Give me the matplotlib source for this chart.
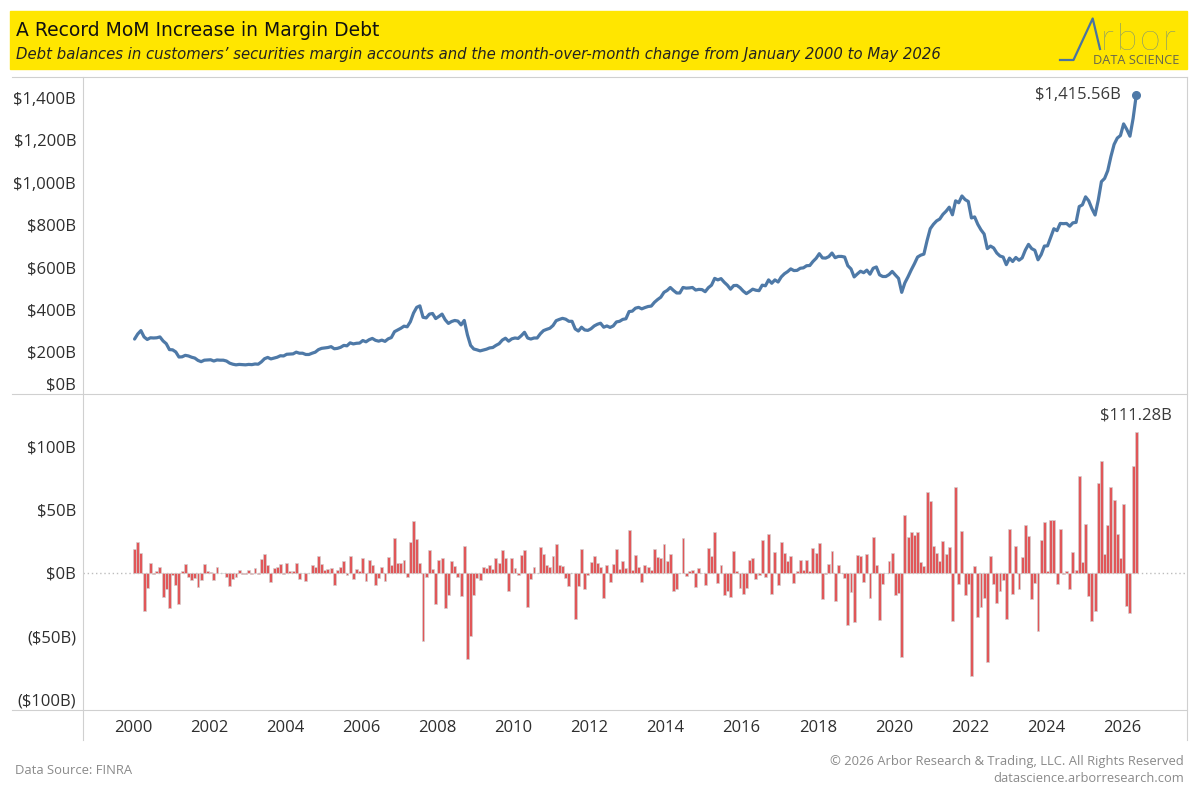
import numpy as np
import pandas as pd
import matplotlib
matplotlib.use("Agg")
import matplotlib.pyplot as plt
from matplotlib.lines import Line2D
from matplotlib.patches import Rectangle

# Margin debt balance ($B), monthly Jan 2000 .. May 2026, one row per year
margin_debt = [
    260, 284, 300, 270, 258, 266, 265, 266, 270, 251, 238, 210,
    209, 199, 175, 176, 183, 180, 174, 170, 159, 153, 160, 161,
    162, 156, 161, 160, 160, 156, 146, 141, 138, 140, 139, 138,
    140, 139, 142, 141, 152, 167, 173, 166, 170, 174, 181, 180,
    188, 189, 190, 198, 193, 193, 187, 187, 193, 198, 210, 216,
    218, 220, 224, 214, 216, 221, 230, 228, 242, 237, 240, 241,
    253, 247, 257, 263, 254, 250, 255, 249, 261, 267, 295, 303,
    311, 321, 318, 342, 383, 410, 417, 363, 360, 378, 381, 357,
    367, 378, 351, 334, 343, 348, 345, 327, 348, 280, 230, 213,
    209, 204, 208, 212, 218, 220, 230, 238, 255, 264, 250, 261,
    265, 263, 276, 292, 265, 260, 265, 265, 285, 300, 306, 311,
    324, 347, 353, 358, 354, 344, 344, 308, 298, 316, 303, 301,
    309, 322, 330, 335, 316, 322, 315, 322, 341, 344, 353, 356,
    390, 392, 406, 410, 403, 409, 414, 416, 434, 447, 458, 481,
    490, 504, 490, 478, 478, 504, 501, 502, 504, 492, 495, 494,
    484, 503, 515, 547, 540, 546, 529, 515, 496, 513, 514, 503,
    487, 475, 485, 496, 491, 489, 515, 512, 540, 524, 540, 530,
    554, 569, 579, 592, 584, 585, 595, 597, 607, 608, 627, 642,
    664, 644, 643, 650, 667, 645, 651, 651, 648, 607, 592, 554,
    568, 581, 574, 586, 567, 595, 601, 564, 556, 556, 565, 580,
    563, 547, 481, 526, 555, 587, 616, 648, 657, 662, 726, 782,
    803, 819, 828, 850, 865, 884, 848, 914, 905, 937, 920, 911,
    833, 838, 803, 777, 757, 688, 700, 691, 667, 653, 648, 612,
    643, 627, 646, 633, 644, 681, 708, 688, 680, 635, 660, 700,
    701, 742, 782, 773, 807, 806, 807, 794, 810, 812, 887, 895,
    933, 914, 877, 847, 917, 1005, 1020, 1057, 1124, 1181, 1211, 1223,
    1278, 1252, 1220, 1304, 1415.56,
]

# Month-over-month change ($B)
mom_change = [
    18.6, 24, 16, -30, -12, 8, -0.5, 1.3, 5, -19, -12.6, -27.6,
    -1.3, -9.5, -24.4, 1.3, 7, -3, -5.5, -3.7, -11, -5.5, 7, 1.5,
    1, -5.5, 5, -0.3, 0, -3.4, -10, -4.5, -3, 2.4, -0.5, -1,
    2, -1, 3.7, -1, 10.8, 15, 6.3, -7, 3.7, 4.7, 7, -1,
    8, 1.3, 1.3, 8, -4.7, 0, -6.3, 0, 6.3, 4.7, 13.4, 7,
    2, 2.9, 3.7, -9.5, 2, 4.7, 9.4, -1.8, 13.4, -4.5, 2.9, 1.3,
    11.8, -6.3, 10.2, 6.3, -9.5, -3.7, 4.7, -6.3, 12.3, 6, 27.6, 8.1,
    8.1, 10, -2.9, 24, 41, 26.8, 7.6, -54, -2.9, 18, 2.9, -24.4,
    10, 11.5, -27.3, -17.3, 9.2, 5.2, -2.9, -18, 21, -68, -50, -17,
    -4.2, -5.2, 4.5, 3.7, 6, 2.9, 11.8, 7.9, 18, 11.8, -14, 11.8,
    3.9, -1.8, 14, 18, -26.5, -5, 4.7, 0, 20.5, 15, 6.3, 4.7,
    13.4, 22.8, 6, 5.2, -4.2, -10, 0, -36, -10, 19, -13, -1.8,
    8.4, 13.4, 7.9, 4.7, -19.4, 6, -6.8, 7.3, 19, 2.9, 9.2, 3.7,
    34, 2.1, 14, 4.5, -6.8, 6, 4.5, 2.1, 18.6, 12.3, 11.5, 22.6,
    9.2, 14.7, -14, -12.3, -0.3, 27.3, -2.6, 1.8, 2.6, -10.8, 3.7, 0,
    -9.2, 19.7, 13, 32, -7.6, 6, -17, -14.4, -18.6, 17.3, 1.3, -11.5,
    -16.3, -12, 10, 11.5, -5, -1.8, 26, -2.9, 30.4, -16.3, 16.3, -9.7,
    24, 15.5, 9.2, 13, -7.6, 1.3, 10, 2.1, 10, 1.3, 19.4, 15.5,
    23.4, -20.2, -0.5, 6.8, 17, -21.8, 6, 0, -3.7, -40.7, -14.7, -38.3,
    14, 13, -6.8, 14.7, -19.4, 28, 6, -36.7, -8.4, 0, 9.2, 15.5,
    -17, -16, -66, 45.4, 28.3, 32, 29.7, 32, 8.4, 5.2, 63.8, 56.7,
    21, 15.5, 9.2, 25, 14.7, 20.2, -37.8, 67.5, -8.4, 32.8, -17, -8.4,
    -81, 5.2, -35, -26.5, -19.4, -70, 13, -8.4, -23.4, -14, -5.2, -36.2,
    34.4, -16.3, 21, -13, 12.3, 37.5, 28.9, -20.2, -7.6, -45.4, 25.7, 40,
    1.3, 41.5, 41.5, -8.4, 34.4, -0.8, 1.3, -13, 16.3, 2.1, 76, 8.4,
    38.3, -18.4, -37.5, -29.7, 70.6, 88, 14.7, 37.5, 67.5, 57.2, 30.4, 11.5,
    54, -25.7, -31.8, 84, 111.28,
]

year_ticks = list(range(2000, 2027, 2))
top_ticks = [200, 400, 600, 800, 1000, 1200, 1400]
top_labels = ["$200B", "$400B", "$600B", "$800B", "$1,000B", "$1,200B", "$1,400B"]
bottom_ticks = [-100, -50, 0, 50, 100]
bottom_labels = ["($100B)", "($50B)", "$0B", "$50B", "$100B"]

title = "A Record MoM Increase in Margin Debt"
subtitle = ("Debt balances in customers\u2019 securities margin accounts and the "
            "month-over-month change from January 2000 to May 2026")

LINE_BLUE = "#4e79a7"
BAR_RED = "#e15759"
GRID = "#d0d0d0"
TXT = "#2e2e2e"
LOGO_BLUE = "#4a74a0"

plt.rcParams["font.family"] = ["Open Sans", "DejaVu Sans"]

W, H = 1200, 800
fig = plt.figure(figsize=(12, 8), dpi=100)


def px_rect(l, t, r, b):
    return [l / W, 1 - b / H, (r - l) / W, (b - t) / H]


def hline(y, x0, x1):
    fig.add_artist(Line2D([x0 / W, x1 / W], [1 - y / H, 1 - y / H],
                          transform=fig.transFigure, color=GRID, lw=0.8))


def vline(x, y0, y1):
    fig.add_artist(Line2D([x / W, x / W], [1 - y0 / H, 1 - y1 / H],
                          transform=fig.transFigure, color=GRID, lw=0.8))


def fit_width(t, width_px):
    r = fig.canvas.get_renderer()
    w = t.get_window_extent(renderer=r).width
    t.set_fontsize(t.get_fontsize() * width_px / w)


dates = pd.date_range("2000-01-01", periods=len(margin_debt), freq="MS")
x = dates.year + (dates.month - 0.5) / 12
x0, x1 = 1998.686, 2027.708

# ---- top panel: balance ----
ax1 = fig.add_axes(px_rect(83, 77, 1187, 394))
ax1.plot(x, margin_debt, color=LINE_BLUE, lw=2.3, solid_joinstyle="round",
         solid_capstyle="round")
ax1.plot(x[-1], margin_debt[-1], "o", ms=5.5, color=LINE_BLUE)
ax1.annotate(f"${margin_debt[-1]:,.2f}B", (x[-1], margin_debt[-1]),
             xytext=(-11, 0), textcoords="offset points",
             ha="right", va="center", fontsize=12, color="#3a3a3a")
ax1.set_xlim(x0, x1)
ax1.set_ylim(0, 1500)
ax1.set_xticks([])
ax1.set_yticks(top_ticks)
ax1.set_yticklabels(top_labels)
ax1.text(-7 / 1104, 0, "$0B", transform=ax1.transAxes, ha="right",
         va="bottom", fontsize=12, color=TXT)

# ---- bottom panel: MoM change ----
ax2 = fig.add_axes(px_rect(83, 394, 1187, 710))
ax2.axhline(0, color="#bdbdbd", lw=1, ls=(0, (1, 2)), zorder=0.5)
ax2.bar(x, mom_change, width=0.92 / 12, color=BAR_RED, edgecolor="#d2d2d2",
        linewidth=0.45, zorder=2)
ax2.annotate(f"${mom_change[-1]:,.2f}B", (x[-1], mom_change[-1]),
             xytext=(0, 6), textcoords="offset points",
             ha="center", va="bottom", fontsize=12, color="#3a3a3a")
ax2.set_xlim(x0, x1)
ax2.set_ylim(-108, 141)
ax2.set_yticks(bottom_ticks)
ax2.set_yticklabels(bottom_labels)
ax2.set_xticks(year_ticks)
ax2.set_xticklabels([str(y) for y in year_ticks])

for ax in (ax1, ax2):
    for s in ax.spines.values():
        s.set_visible(False)
    ax.tick_params(length=0, labelsize=12, labelcolor=TXT)
    ax.tick_params(axis="y", pad=5)
    ax.tick_params(axis="x", pad=7)
    ax.patch.set_alpha(0)

# frame lines
for yy in (77, 394, 710):
    hline(yy, 12, 1187)
vline(83, 77, 740)
vline(1187, 77, 740)

# ---- header ----
fig.add_artist(Rectangle((10 / W, 1 - 69 / H), 1177 / W, 58 / H,
                         transform=fig.transFigure, color="#ffe600", zorder=0))
t = fig.text(16 / W, 1 - 31 / H, title, ha="left", va="center", fontsize=13,
             color="#111111", family=["Liberation Sans Narrow", "DejaVu Sans"])
fit_width(t, 362)
t = fig.text(16 / W, 1 - 54 / H, subtitle, ha="left", va="center", fontsize=11,
             style="italic", color="#222222",
             family=["Liberation Sans Narrow", "DejaVu Sans"])
fit_width(t, 924)

# logo: the "A" is a little line chart, then "rbor" spaced out letter by letter
fig.add_artist(Line2D([1060 / W, 1073.5 / W, 1092.7 / W, 1100 / W],
                      [1 - 60 / H, 1 - 60 / H, 1 - 18.5 / H, 1 - 49 / H],
                      transform=fig.transFigure, color=LOGO_BLUE, lw=1.6))
for ch, lx in zip("rbor", [1100, 1116, 1140, 1163]):
    fig.text(lx / W, 1 - 50 / H, ch, ha="left", va="baseline", fontsize=27,
             color=LOGO_BLUE, family=["Lato", "DejaVu Sans"], fontweight="light")
t = fig.text(1093 / W, 1 - 61 / H, "DATA SCIENCE", ha="left", va="center",
             fontsize=8, color="#66664f")
fit_width(t, 86)

# ---- footer ----
t = fig.text(15 / W, 1 - 770 / H, "Data Source: FINRA", ha="left", va="center",
             fontsize=9.5, color="#8a8a8a")
fit_width(t, 118)
t = fig.text(1184 / W, 1 - 761 / H,
             "\u00a9 2026 Arbor Research & Trading, LLC. All Rights Reserved",
             ha="right", va="center", fontsize=9.5, color="#8a8a8a")
fit_width(t, 356)
t = fig.text(1184 / W, 1 - 779 / H, "datascience.arborresearch.com",
             ha="right", va="center", fontsize=9.5, color="#8a8a8a")
fit_width(t, 192)

fig.savefig("out.png", dpi=100)
